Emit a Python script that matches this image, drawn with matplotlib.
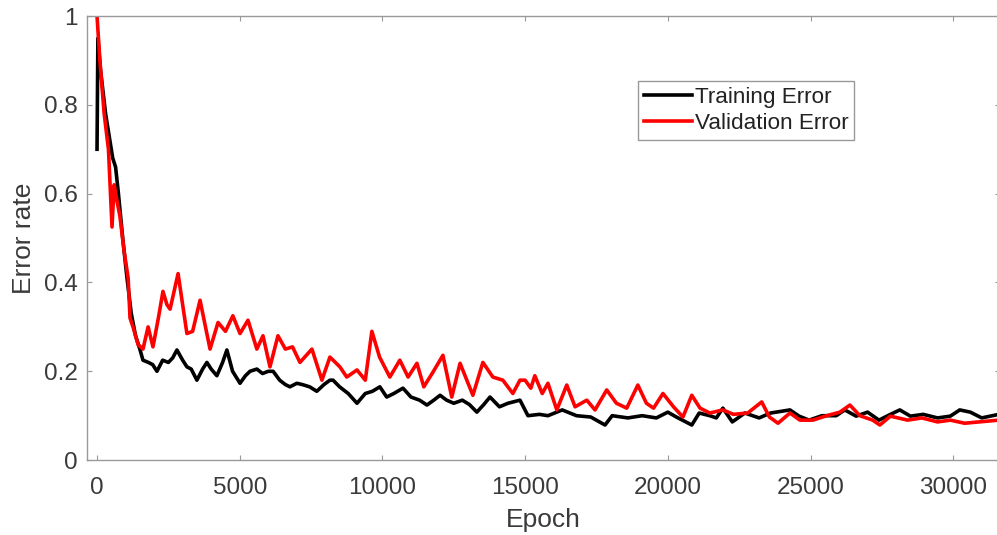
import matplotlib
matplotlib.use("Agg")
import matplotlib.pyplot as plt

train_epoch = [0, 30, 120, 300, 450, 550, 650, 750, 900, 1050, 1200, 1350, 1500, 1610, 1800, 1950, 2100,
               2300, 2500, 2650, 2800, 3000, 3150, 3300, 3500, 3700, 3850, 4000, 4200, 4400, 4550, 4750,
               5010, 5200, 5360, 5600, 5800, 6000, 6170, 6400, 6600, 6760, 7000, 7200, 7450, 7700, 7950,
               8160, 8270, 8500, 8800, 9110, 9400, 9650, 9910, 10150, 10400, 10720, 11000, 11300, 11560,
               11800, 12020, 12250, 12500, 12800, 13050, 13310, 13550, 13770, 14100, 14400, 14820, 15100,
               15500, 15800, 16300, 16800, 17300, 17800, 18050, 18600, 19100, 19600, 20000, 20300, 20840,
               21100, 21470, 21700, 21930, 22260, 22700, 23200, 23600, 24280, 24600, 24950, 25400, 25900,
               26200, 26600, 27000, 27400, 27800, 28130, 28500, 28950, 29450, 29900, 30230, 30600, 31000,
               31600]
train_err = [0.70, 0.95, 0.88, 0.78, 0.72, 0.68, 0.66, 0.60, 0.50, 0.41, 0.33, 0.28, 0.25, 0.225, 0.22, 0.215, 0.20,
             0.225, 0.22, 0.23, 0.248, 0.225, 0.21, 0.205, 0.18, 0.205, 0.22, 0.205, 0.19, 0.22, 0.248, 0.20,
             0.173, 0.19, 0.20, 0.205, 0.195, 0.20, 0.20, 0.18, 0.17, 0.165, 0.173, 0.17, 0.165, 0.155, 0.17,
             0.18, 0.18, 0.165, 0.15, 0.128, 0.15, 0.155, 0.165, 0.142, 0.15, 0.162, 0.142, 0.135, 0.124,
             0.135, 0.146, 0.135, 0.128, 0.135, 0.125, 0.108, 0.125, 0.142, 0.12, 0.128, 0.135, 0.10,
             0.103, 0.10, 0.113, 0.10, 0.097, 0.079, 0.10, 0.095, 0.10, 0.095, 0.108, 0.097, 0.079,
             0.106, 0.10, 0.095, 0.117, 0.086, 0.106, 0.095, 0.106, 0.113, 0.099, 0.09, 0.10, 0.10,
             0.113, 0.099, 0.108, 0.09, 0.103, 0.113, 0.099, 0.103, 0.095, 0.099, 0.113, 0.108, 0.095,
             0.103]

val_epoch = [0, 100, 250, 400, 525, 600, 680, 800, 950, 1090, 1156, 1260, 1440, 1610, 1790, 1960, 2150, 2310,
             2450, 2560, 2840, 3000, 3150, 3350, 3610, 3800, 3960, 4240, 4500, 4760, 5010, 5290, 5600, 5815,
             6060, 6340, 6600, 6850, 7110, 7530, 7880, 8160, 8510, 8750, 9110, 9400, 9630, 9900, 10260,
             10610, 10900, 11210, 11450, 11770, 12120, 12430, 12720, 13170, 13520, 13870, 14220, 14570,
             14820, 15000, 15200, 15340, 15600, 15800, 16110, 16460, 16750, 17160, 17450, 17860, 18200,
             18560, 18950, 19250, 19500, 19830, 20200, 20530, 20840, 21130, 21470, 21930, 22300, 22800,
             23290, 23560, 23860, 24280, 24630, 25080, 25570, 26030, 26380, 26730, 27180, 27430, 27800,
             28400, 28900, 29450, 29900, 30400, 30900, 31600]
val_err = [1.0, 0.90, 0.78, 0.70, 0.525, 0.62, 0.59, 0.55, 0.47, 0.41, 0.32, 0.30, 0.26, 0.25, 0.30, 0.255, 0.32, 0.38,
           0.35, 0.34, 0.42, 0.35, 0.285, 0.29, 0.36, 0.30, 0.25, 0.31, 0.29, 0.325, 0.285, 0.315, 0.25, 0.28,
           0.21, 0.28, 0.25, 0.255, 0.22, 0.25, 0.18, 0.232, 0.21, 0.187, 0.203, 0.18, 0.29, 0.232, 0.187,
           0.225, 0.187, 0.218, 0.165, 0.198, 0.236, 0.142, 0.218, 0.146, 0.22, 0.187, 0.18, 0.15,
           0.18, 0.18, 0.162, 0.19, 0.15, 0.173, 0.113, 0.169, 0.12, 0.135, 0.113, 0.158, 0.128,
           0.117, 0.169, 0.128, 0.117, 0.15, 0.12, 0.097, 0.146, 0.117, 0.106, 0.113, 0.103, 0.106,
           0.131, 0.097, 0.083, 0.106, 0.09, 0.09, 0.10, 0.108, 0.124, 0.10, 0.09, 0.079, 0.099,
           0.09, 0.095, 0.086, 0.09, 0.083, 0.086, 0.09]

x_ticks = [0, 5000, 10000, 15000, 20000, 25000, 30000]
y_ticks = [0, 0.2, 0.4, 0.6, 0.8, 1]
y_tick_labels = ["0", "0.2", "0.4", "0.6", "0.8", "1"]

plt.rcParams['font.family'] = ['Liberation Sans', 'DejaVu Sans']

fig = plt.figure(figsize=(9.97, 5.35), dpi=100)
ax = fig.add_axes([0.0873, 0.140, 0.916, 0.830])

ax.plot(train_epoch, train_err, color='black', lw=2.6, label='Training Error')
ax.plot(val_epoch, val_err, color='#ff0000', lw=2.6, label='Validation Error')

ax.set_xlim(-350, 31650)
ax.set_ylim(0, 1)
ax.set_xticks(x_ticks)
ax.set_xticklabels([str(t) for t in x_ticks])
ax.set_yticks(y_ticks)
ax.set_yticklabels(y_tick_labels)

for s in ax.spines.values():
    s.set_color('#999999')
    s.set_linewidth(1.0)
ax.tick_params(direction='in', length=3.5, width=0.8, color='#999999',
               labelsize=17.5, labelcolor='#3a3a3a', top=True, right=True)
ax.tick_params(axis='x', pad=12)
ax.tick_params(axis='y', pad=6.5)

ax.set_xlabel('Epoch', fontsize=19, color='#3a3a3a', labelpad=7)
ax.set_ylabel('Error rate', fontsize=19, color='#3a3a3a', labelpad=6)

leg = ax.legend(loc='upper left', bbox_to_anchor=(0.6035, 0.8536), fontsize=16.2,
                handlelength=2.15, handletextpad=0.12, borderpad=0.25, labelspacing=0.25,
                fancybox=False, framealpha=1, borderaxespad=0)
leg.get_frame().set_edgecolor('#999999')
leg.get_frame().set_linewidth(1.0)
for t in leg.get_texts():
    t.set_color('#222222')

fig.savefig('out.png', dpi=100)
